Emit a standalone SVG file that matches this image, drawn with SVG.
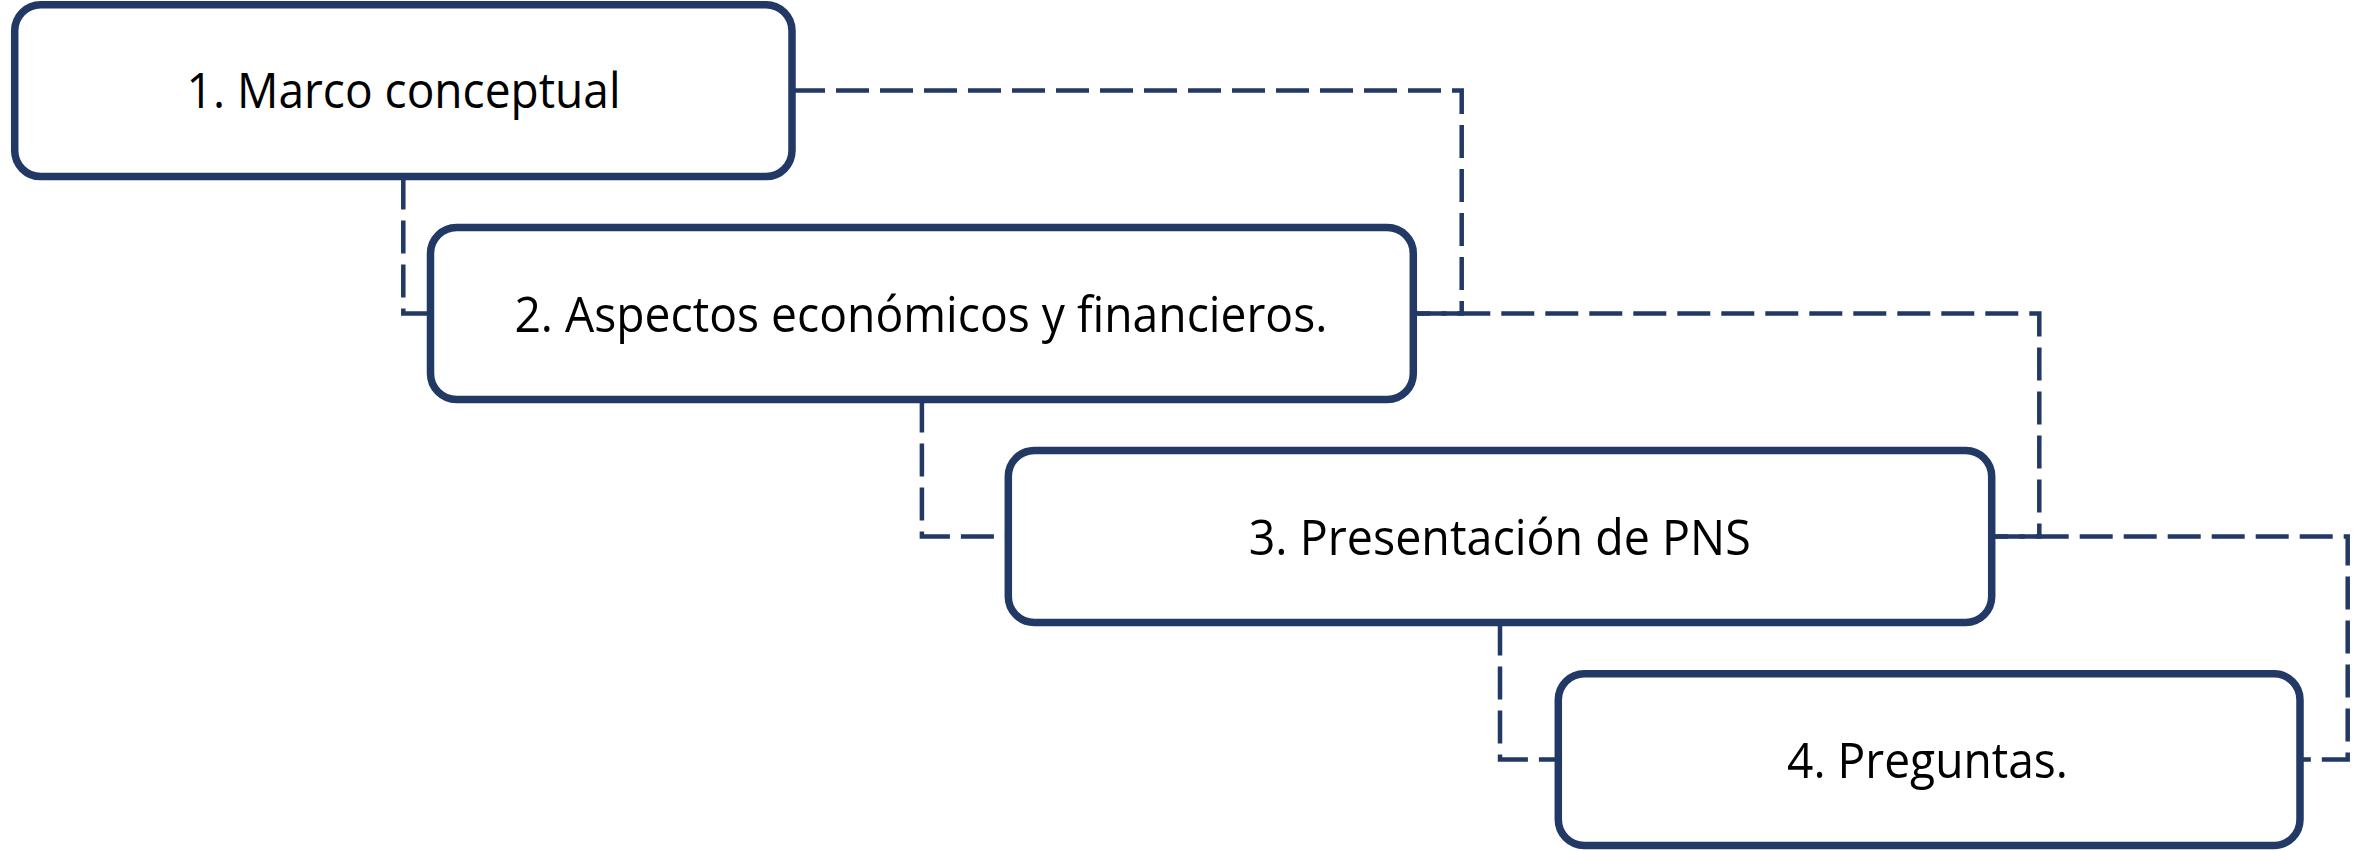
<svg xmlns="http://www.w3.org/2000/svg" width="2353" height="851" viewBox="0 0 2353 851">
  <style>
    .box { fill: #ffffff; stroke: #213964; stroke-width: 7.5; }
    .conn { fill: none; stroke: #213964; stroke-width: 4.5; stroke-dasharray: 33 11; }
    .lbl { font-family: "Open Sans", "Noto Sans", "Liberation Sans", sans-serif; font-size: 50px; fill: #000000; text-anchor: middle; }
  </style>
  <rect width="2353" height="851" fill="#ffffff"/>
  <g id="connectors">
    <path class="conn" d="M 403.3 176.6 V 313.5 H 430.5"/>
    <path class="conn" d="M 792 90.6 H 1461.7 V 313.5 H 1413.3"/>
    <path class="conn" d="M 921.9 399.5 V 536.5 H 1008.3"/>
    <path class="conn" d="M 1413.3 313.5 H 2039.3 V 536.5 H 1991.7"/>
    <path class="conn" d="M 1500 622.5 V 759.6 H 1558.3"/>
    <path class="conn" d="M 1991.7 536.5 H 2347.7 V 759.6 H 2300"/>
  </g>
  <g id="node1">
    <rect class="box" x="14.7" y="4.7" width="777.3" height="171.9" rx="26" ry="26"/>
    <text class="lbl" x="403.6" y="108.3" textLength="434" lengthAdjust="spacingAndGlyphs">1. Marco conceptual</text>
  </g>
  <g id="node2">
    <rect class="box" x="430.5" y="227.6" width="982.8" height="171.9" rx="26" ry="26"/>
    <text class="lbl" x="920.9" y="331.7" textLength="813" lengthAdjust="spacingAndGlyphs">2. Aspectos económicos y financieros.</text>
  </g>
  <g id="node3">
    <rect class="box" x="1008.3" y="450.5" width="983.4" height="172" rx="26" ry="26"/>
    <text class="lbl" x="1499.7" y="554.5" textLength="502" lengthAdjust="spacingAndGlyphs">3. Presentación de PNS</text>
  </g>
  <g id="node4">
    <rect class="box" x="1558.3" y="673.8" width="741.7" height="171.7" rx="26" ry="26"/>
    <text class="lbl" x="1927.5" y="777.7" textLength="281" lengthAdjust="spacingAndGlyphs">4. Preguntas.</text>
  </g>
</svg>
